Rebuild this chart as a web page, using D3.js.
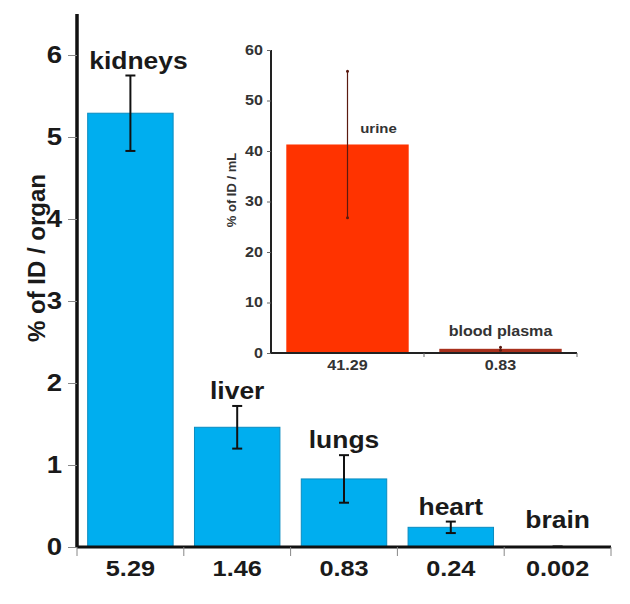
<!DOCTYPE html>
<html><head><meta charset="utf-8">
<script src="https://cdn.jsdelivr.net/npm/d3@7"></script>
<style>body{margin:0;background:#fff}svg{display:block}text{font-family:"Liberation Sans",Arial,sans-serif;font-weight:bold}</style>
</head><body><svg id="c" width="630" height="604"></svg>
<script>
// main chart data
const organs = ["kidneys","liver","lungs","heart","brain"];
const organValues = [5.29, 1.46, 0.83, 0.24, 0.002];
const organErrors = [0.46, 0.26, 0.29, 0.07, 0.005];
const organTickLabels = ["5.29","1.46","0.83","0.24","0.002"];
const organYTicks = [0,1,2,3,4,5,6];
// inset data
const fluids = ["urine","blood plasma"];
const fluidValues = [41.29, 0.83];
const fluidErrors = [14.5, 0.3];
const fluidTickLabels = ["41.29","0.83"];
const fluidYTicks = [0,10,20,30,40,50,60];

const SX = 1.15; // horizontal stretch of the source image text
const FF = "Liberation Sans, Arial, sans-serif";
const svg = d3.select("#c");

// ---- main chart ----
const x = d3.scaleBand().domain(organs).range([77, 611]).paddingInner(0.2).paddingOuter(0.1);
const y = d3.scaleLinear().domain([0, 6.5]).range([547, 14]);
const cx = d => x(d) + x.bandwidth()/2;

const main = svg.append("g");
main.selectAll("rect.bar").data(organs).join("rect")
  .attr("x", d => x(d)).attr("width", x.bandwidth())
  .attr("y", (d,i) => y(organValues[i])).attr("height", (d,i) => y(0) - y(organValues[i]))
  .attr("fill", "#00aeef").attr("stroke", "#0a8cc0").attr("stroke-width", 1);

// error bars
const hi = i => y(organValues[i] + organErrors[i]);
const lo = i => y(Math.max(0, organValues[i] - organErrors[i]));
const eb = main.selectAll("g.err").data(organs).join("g");
eb.append("line").attr("x1", cx).attr("x2", cx)
  .attr("y1", (d,i) => hi(i)).attr("y2", (d,i) => lo(i))
  .attr("stroke", "#111").attr("stroke-width", 2);
eb.append("line").attr("x1", d => cx(d) - 5).attr("x2", d => cx(d) + 5)
  .attr("y1", (d,i) => hi(i)).attr("y2", (d,i) => hi(i))
  .attr("stroke", "#111").attr("stroke-width", 2);
eb.append("line").attr("x1", d => cx(d) - 5).attr("x2", d => cx(d) + 5)
  .attr("y1", (d,i) => lo(i)).attr("y2", (d,i) => lo(i))
  .attr("stroke", "#111").attr("stroke-width", 2);

// organ labels
main.selectAll("text.lab").data(organs).join("text")
  .attr("transform", (d,i) => `translate(${cx(d) + (i === 0 ? 8 : 0)},${Math.min(hi(i) - 7, y(0) - 19)}) scale(${SX},1)`)
  .attr("text-anchor", "middle").attr("font-size", 23).attr("fill", "#1a1a1a").text(d => d);

// axes
const yAxis = main.append("g").attr("transform", "translate(77,0)")
  .call(d3.axisLeft(y).tickValues(organYTicks).tickSize(9).tickPadding(6).tickFormat(d3.format("d")));
yAxis.select(".domain").attr("d", `M0,${y(6.5)}V${y(0)}`).attr("stroke", "#111").attr("stroke-width", 3.5);
yAxis.selectAll(".tick line").attr("stroke", "#888").attr("stroke-width", 1);
yAxis.selectAll(".tick text").attr("x", 0).attr("transform", `translate(-15,0) scale(${SX},1)`)
  .attr("font-size", 24).attr("fill", "#1a1a1a").attr("font-family", FF);

const xAxis = main.append("g").attr("transform", `translate(0,${y(0)})`)
  .call(d3.axisBottom(x).tickSize(0).tickPadding(13).tickFormat((d,i) => organTickLabels[i]));
xAxis.select(".domain").attr("d", "M77,0H611").attr("stroke", "#111").attr("stroke-width", 3);
xAxis.selectAll(".tick text").attr("transform", `scale(${SX},1)`)
  .attr("font-size", 22).attr("fill", "#1a1a1a").attr("dy", "0.75em").attr("font-family", FF);
const bounds = organs.map(d => x(d) - x.step()*x.paddingInner()/2).concat([611]);
xAxis.selectAll("line.bt").data(bounds).join("line")
  .attr("x1", d => d).attr("x2", d => d).attr("y1", 0).attr("y2", 9)
  .attr("stroke", "#888").attr("stroke-width", 1);

main.append("text").attr("transform", "translate(45,258) rotate(-90)")
  .attr("text-anchor", "middle").attr("font-size", 24).attr("fill", "#1a1a1a").text("% of ID / organ");

// ---- inset ----
const x2 = d3.scaleBand().domain(fluids).range([271, 577]).paddingInner(0.2).paddingOuter(0.1);
const y2 = d3.scaleLinear().domain([0, 60]).range([353, 50]);
const cx2 = d => x2(d) + x2.bandwidth()/2;
const inset = svg.append("g");
const fluidColors = ["#ff3300", "#a8301c"];

inset.selectAll("rect").data(fluids).join("rect")
  .attr("x", d => x2(d)).attr("width", x2.bandwidth())
  .attr("y", (d,i) => y2(fluidValues[i])).attr("height", (d,i) => y2(0) - y2(fluidValues[i]))
  .attr("fill", (d,i) => fluidColors[i]);

inset.selectAll("line.err").data(fluids).join("line")
  .attr("x1", cx2).attr("x2", cx2)
  .attr("y1", (d,i) => y2(fluidValues[i] + fluidErrors[i])).attr("y2", (d,i) => y2(Math.max(0, fluidValues[i] - fluidErrors[i])))
  .attr("stroke", "#5a1a10").attr("stroke-width", 1.2);
inset.selectAll("circle.ec").data(fluids.flatMap((d,i) => [[d, fluidValues[i] + fluidErrors[i]], [d, Math.max(0, fluidValues[i] - fluidErrors[i])]])).join("circle")
  .attr("cx", d => cx2(d[0])).attr("cy", d => y2(d[1])).attr("r", 1.5).attr("fill", "#5a1a10");

inset.selectAll("text.lab").data(fluids).join("text")
  .attr("transform", (d,i) => `translate(${cx2(d) + (i === 0 ? 31 : 0)},${y2(fluidValues[i]) - (i === 0 ? 11 : 13)}) scale(${SX},1)`)
  .attr("text-anchor", "middle").attr("font-size", (d,i) => i === 0 ? 13 : 14).attr("fill", "#333").text(d => d);

const y2Axis = inset.append("g").attr("transform", "translate(271,0)")
  .call(d3.axisLeft(y2).tickValues(fluidYTicks).tickSize(4).tickPadding(4));
y2Axis.select(".domain").attr("stroke", "#222").attr("stroke-width", 2).attr("d", `M0,${y2(60)}V${y2(0)}`);
y2Axis.selectAll(".tick line").attr("stroke", "#666");
y2Axis.selectAll(".tick text").attr("x", 0).attr("transform", `translate(-8,0) scale(${SX},1)`)
  .attr("font-size", 14).attr("fill", "#333").attr("font-family", FF);

const x2Axis = inset.append("g").attr("transform", `translate(0,${y2(0)})`)
  .call(d3.axisBottom(x2).tickSize(0).tickPadding(7).tickFormat((d,i) => fluidTickLabels[i]));
x2Axis.select(".domain").attr("d", "M271,0H577").attr("stroke", "#222").attr("stroke-width", 2);
x2Axis.selectAll(".tick text").attr("transform", `scale(${SX},1)`)
  .attr("font-size", 14).attr("fill", "#333").attr("font-family", FF);
const bounds2 = fluids.map(d => x2(d) - x2.step()*x2.paddingInner()/2).slice(1).concat([577]);
x2Axis.selectAll("line.bt").data(bounds2).join("line")
  .attr("x1", d => d).attr("x2", d => d).attr("y1", 0).attr("y2", 4).attr("stroke", "#666");

inset.append("text").attr("transform", "translate(236,190) rotate(-90)")
  .attr("text-anchor", "middle").attr("font-size", 13).attr("fill", "#333").text("% of ID / mL");
</script></body></html>
